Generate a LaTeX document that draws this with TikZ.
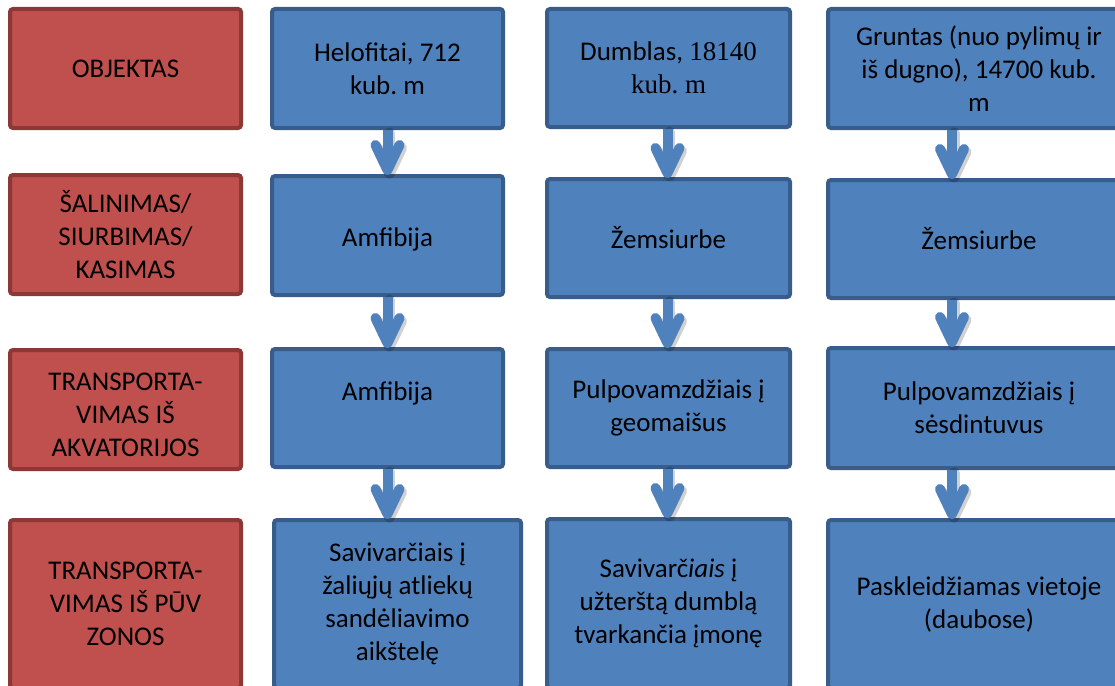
\documentclass[tikz,border=0pt]{standalone}
\usepackage{fontspec}
\setmainfont{Carlito}
\newfontfamily\tnr{Liberation Serif}
\usetikzlibrary{calc}
\frenchspacing
\definecolor{redfill}{HTML}{C0504D}
\definecolor{redline}{HTML}{8C3836}
\definecolor{bluefill}{HTML}{4F81BD}
\definecolor{blueline}{HTML}{385D8A}
\definecolor{arrblue}{HTML}{4F81BD}
\newcommand\nodepthtxt[1]{\raisebox{0pt}[\height][0pt]{#1}\vphantom{Ž}}
\tikzset{
  box/.style={rectangle, rounded corners=3pt, line width=4pt, align=center,
    inner sep=0pt, text=black, font=\fontsize{27}{33}\selectfont},
  redbox/.style={box, fill=redfill, draw=redline},
  bluebox/.style={box, fill=bluefill, draw=blueline},
  arrbody/.style={line width=10pt, draw=arrblue, line cap=butt},
  arrtip/.style={line width=10pt, draw=arrblue, line cap=round, line join=round},
  arrshade/.style={line width=11pt, draw=black, opacity=0.18, line cap=round, line join=round},
}
\newcommand\flowarr[3]{%
  \coordinate (fs) at ($(#2.south)+(#1,0)$);
  \coordinate (ft) at ($(#2.south |- #3.north)+(#1,-4)$);
  \begin{scope}[transform canvas={xshift=2pt,yshift=-3pt}]
    \draw[arrshade] (fs) -- ($(ft)+(0,-10)$);
    \draw[arrshade] ($(ft)+(-12,-25)$) -- (ft) -- ($(ft)+(12,-25)$);
  \end{scope}
  \draw[arrbody] (fs) -- (ft);
  \draw[arrtip] ($(ft)+(-12,-25)$) -- (ft) -- ($(ft)+(12,-25)$);
}
\begin{document}
\begin{tikzpicture}[x=1pt,y=-1pt]
\useasboundingbox (0,0) rectangle (1115,685);
\clip (0,0) rectangle (1115,685);
\fill[white] (0,0) rectangle (1115,685);
% red column
\node[redbox, minimum width=231pt, minimum height=119pt] (h1) at (125.5,68.5) {OBJEKTAS};
\node[redbox, minimum width=231pt, minimum height=119pt] (h2) at (125.5,234.5) {ŠALINIMAS/\\SIURBIMAS/\\KASIMAS};
\node[redbox, minimum width=231pt, minimum height=119pt] (h3) at (125.5,409.5) {\rule{0pt}{28pt}TRANSPORTA-\\VIMAS IŠ\\AKVATORIJOS};
\node[redbox, minimum width=231pt, minimum height=168pt] (h4) at (125.5,604) {TRANSPORTA-\\VIMAS IŠ PŪV\\ZONOS};
% column 1
\node[bluebox, minimum width=231pt, minimum height=119pt] (a1) at (387.5,68.5) {Helofitai, 712\\kub. m};
\node[bluebox, minimum width=231pt, minimum height=119pt] (a2) at (387.5,235.5) {\nodepthtxt{Amfibija}};
\node[bluebox, minimum width=231pt, minimum height=118pt] (a3) at (387.5,408) {Amfibija\\\mbox{}};
\node[bluebox, minimum width=247pt, minimum height=168pt] (a4) at (397.5,604) {Savivarčiais į\\žaliųjų atliekų\\sandėliavimo\\aikštelę};
% column 2
\node[bluebox, minimum width=243pt, minimum height=118pt] (b1) at (668.5,68) {Dumblas, {\tnr 18140}\\{\tnr kub. m}};
\node[bluebox, minimum width=243pt, minimum height=118pt] (b2) at (668.5,238) {Žemsiurbe};
\node[bluebox, minimum width=243pt, minimum height=118pt] (b3) at (668.5,408) {Pulpovamzdžiais į\\geomaišus};
\node[bluebox, minimum width=243pt, minimum height=169pt] (b4) at (668.5,603.5) {Savivarč\textit{iais} į\\užterštą dumblą\\tvarkančia įmonę};
% column 3
\node[bluebox, minimum width=302pt, minimum height=119pt] (c1) at (979,68.5) {Gruntas (nuo pylimų ir\\iš dugno), 14700 kub.\\m};
\node[bluebox, minimum width=302pt, minimum height=118pt] (c2) at (979,239) {Žemsiurbe};
\node[bluebox, minimum width=302pt, minimum height=120pt] (c3) at (979,408) {Pulpovamzdžiais į\\sėsdintuvus};
\node[bluebox, minimum width=302pt, minimum height=168pt] (c4) at (979,604) {Paskleidžiamas vietoje\\(daubose)};
% arrows
\flowarr{0}{a1}{a2}
\flowarr{0}{a2}{a3}
\flowarr{0}{a3}{a4}
\flowarr{-1}{b1}{b2}
\flowarr{-1}{b2}{b3}
\flowarr{-1}{b3}{b4}
\flowarr{-27}{c1}{c2}
\flowarr{-27}{c2}{c3}
\flowarr{-27}{c3}{c4}
\end{tikzpicture}
\end{document}
